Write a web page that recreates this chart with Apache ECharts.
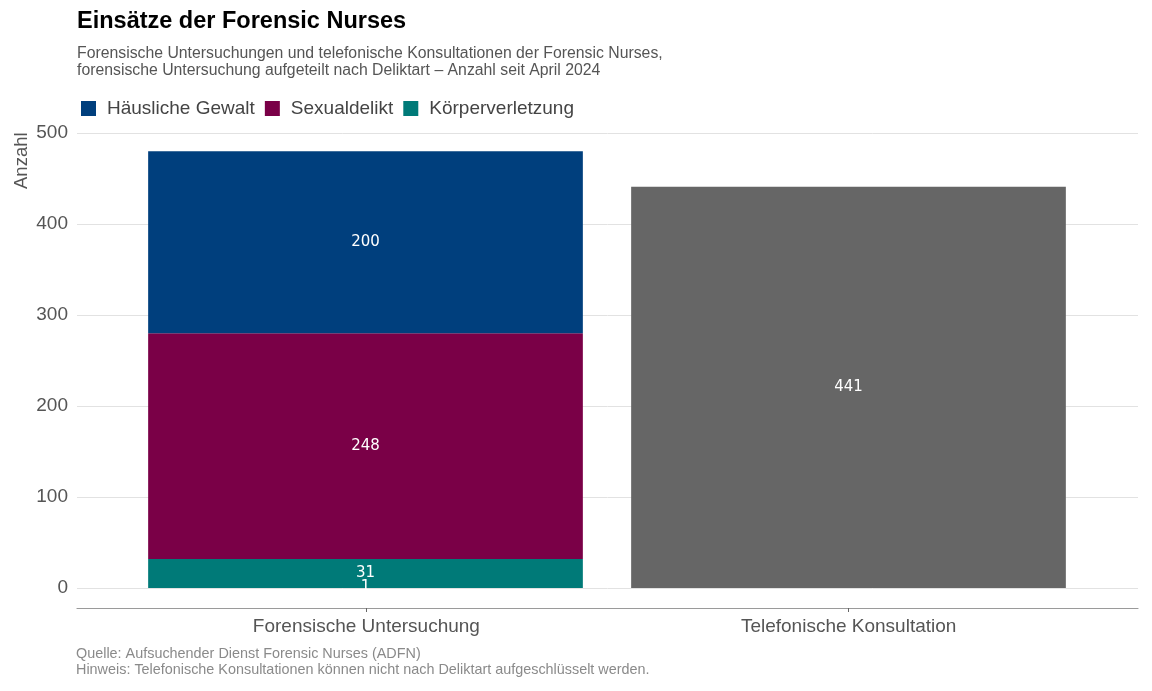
<!DOCTYPE html>
<html><head><meta charset="utf-8">
<script src="https://cdn.jsdelivr.net/npm/echarts@6/dist/echarts.min.js"></script>
<style>html,body{margin:0;padding:0;background:#fff}#c{width:1152px;height:691px}</style>
</head><body><div id="c"></div>
<script>
const categories = ['Forensische Untersuchung', 'Telefonische Konsultation'];
const seriesNames = ['Andere', 'Körperverletzung', 'Sexualdelikt', 'Häusliche Gewalt', 'Telefonische Konsultation'];
const andere = [1, null];
const koerperverletzung = [31, null];
const sexualdelikt = [248, null];
const haeuslicheGewalt = [200, null];
const telefonisch = [null, 441];
const yTicks = [0, 100, 200, 300, 400, 500];
const colors = ['#007a78', '#007a78', '#7a0047', '#003f7d', '#666666'];

const FONT = 'Liberation Sans, Arial, sans-serif';
const positions = categories.map((c, i) => i + 1);
const values = [andere, koerperverletzung, sexualdelikt, haeuslicheGewalt, telefonisch];

const chart = echarts.init(document.getElementById('c'), null, {renderer: 'canvas'});
const series = seriesNames.map((name, si) => ({
  name: name,
  type: 'bar',
  stack: 'total',
  xAxisIndex: 1, yAxisIndex: 1,
  barWidth: '90%',
  data: values[si].map(v => v == null ? '-' : v),
  itemStyle: {color: colors[si]},
  label: {show: true, position: 'inside', color: '#fff', fontFamily: 'DejaVu Sans', fontSize: 15},
  emphasis: {disabled: true},
  animation: false
}));
const legendNames = ['Häusliche Gewalt', 'Sexualdelikt', 'Körperverletzung'];

chart.setOption({
  animation: false,
  title: [{
    text: 'Einsätze der Forensic Nurses', left: 77, top: 10, padding: 0,
    textStyle: {fontFamily: FONT, fontWeight: 'bold', fontSize: 23.5, color: '#000'}
  }, {
    text: 'Forensische Untersuchungen und telefonische Konsultationen der Forensic Nurses,\nforensische Untersuchung aufgeteilt nach Deliktart – Anzahl seit April 2024',
    left: 77, top: 45, padding: 0,
    textStyle: {fontFamily: FONT, fontWeight: 'normal', fontSize: 15.8, color: '#555', lineHeight: 17}
  }, {
    text: 'Quelle: Aufsuchender Dienst Forensic Nurses (ADFN)\nHinweis: Telefonische Konsultationen können nicht nach Deliktart aufgeschlüsselt werden.',
    left: 76, top: 646, padding: 0,
    textStyle: {fontFamily: FONT, fontWeight: 'normal', fontSize: 14.4, color: '#8a8a8a', lineHeight: 16}
  }],
  legend: {
    data: legendNames,
    left: 81, top: 99, padding: 0, itemWidth: 15, itemHeight: 15, itemGap: 10, icon: 'rect',
    textStyle: {fontFamily: FONT, fontSize: 19, color: '#444', padding: [0, 0, 0, 6]},
    selectedMode: false
  },
  grid: [
    {left: 77, right: 14, top: 133, bottom: 103, containLabel: false},
    {left: 124, right: 62, top: 133, bottom: 103, containLabel: false}
  ],
  xAxis: [{
    type: 'value', gridIndex: 0, min: 0.4, max: 2.6, offset: 20,
    axisLine: {show: true, onZero: false, lineStyle: {color: '#9a9a9a', width: 1.2}},
    axisTick: {show: true, customValues: positions, length: 4, lineStyle: {color: '#666'}},
    axisLabel: {customValues: positions, formatter: v => categories[Math.round(v) - 1],
      fontFamily: FONT, fontSize: 19, color: '#555', margin: 9},
    splitLine: {show: false}
  }, {
    type: 'category', gridIndex: 1, data: categories, show: false
  }],
  yAxis: [{
    type: 'value', gridIndex: 0, min: 0, max: 500, interval: 100,
    axisLine: {show: false}, axisTick: {show: false},
    axisLabel: {fontFamily: FONT, fontSize: 19, color: '#555', margin: 9,
      formatter: v => yTicks.includes(v) ? String(v) : ''},
    splitLine: {lineStyle: {color: '#e2e2e2', width: 1}}
  }, {
    type: 'value', gridIndex: 1, min: 0, max: 500, interval: 100, show: false,
    splitLine: {show: false}
  }],
  graphic: [{
    type: 'text', x: 12, y: 189, rotation: Math.PI / 2,
    style: {text: 'Anzahl', font: '18.5px ' + FONT, fill: '#555', textAlign: 'left', textVerticalAlign: 'top'}
  }],
  series: series
});
</script></body></html>
